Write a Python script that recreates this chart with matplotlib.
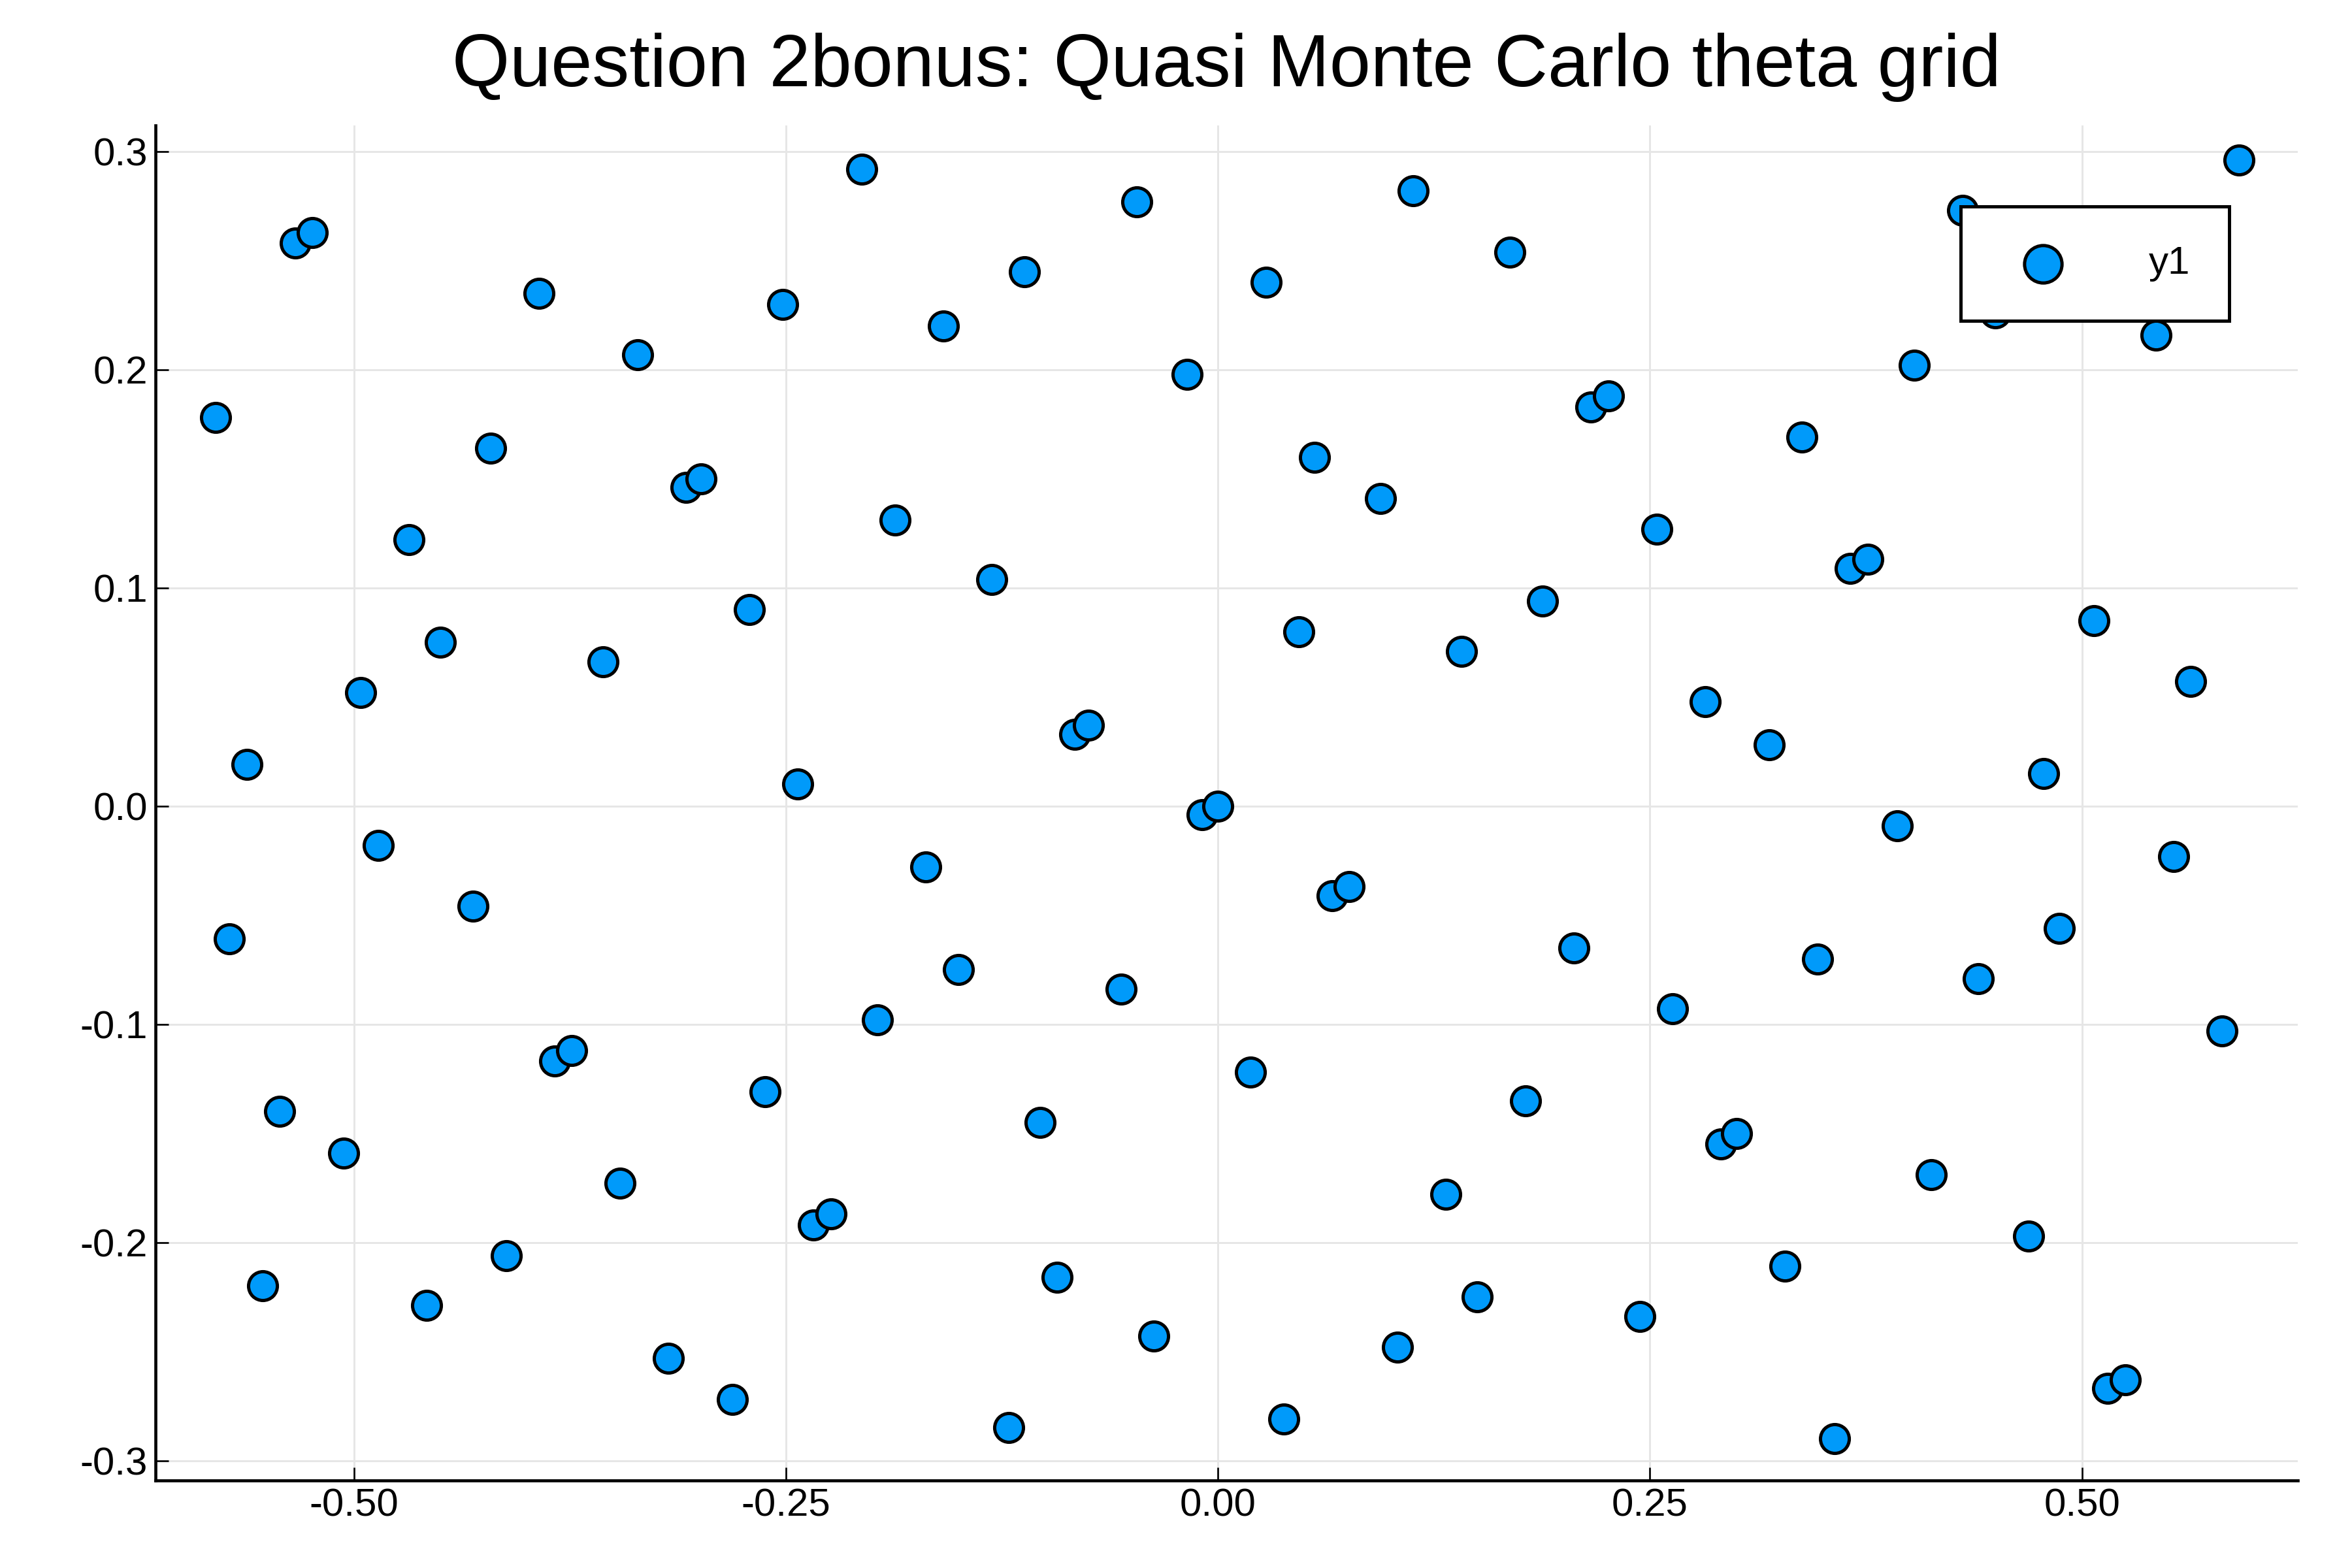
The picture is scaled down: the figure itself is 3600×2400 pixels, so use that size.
import matplotlib.pyplot as plt

theta1 = [-0.580, -0.562, -0.572, -0.543, -0.553, -0.534, -0.524, -0.506, -0.496, -0.486,
          -0.468, -0.458, -0.450, -0.431, -0.421, -0.412, -0.393, -0.384, -0.374, -0.356,
          -0.346, -0.336, -0.318, -0.308, -0.299, -0.281, -0.271, -0.262, -0.252, -0.243,
          -0.234, -0.224, -0.206, -0.197, -0.187, -0.169, -0.159, -0.150, -0.131, -0.121,
          -0.112, -0.103, -0.093, -0.083, -0.075, -0.056, -0.047, -0.037, -0.018, -0.009,
          0.000, 0.019, 0.028, 0.038, 0.047, 0.056, 0.066, 0.076, 0.094, 0.104,
          0.113, 0.132, 0.141, 0.150, 0.169, 0.178, 0.188, 0.206, 0.216, 0.226,
          0.244, 0.254, 0.263, 0.282, 0.291, 0.300, 0.319, 0.328, 0.338, 0.347,
          0.357, 0.366, 0.376, 0.393, 0.403, 0.413, 0.431, 0.440, 0.450, 0.469,
          0.478, 0.487, 0.507, 0.515, 0.525, 0.543, 0.553, 0.563, 0.581, 0.591]
theta2 = [0.178, 0.019, -0.061, -0.140, -0.220, 0.258, 0.263, -0.159, 0.052, -0.018,
          0.122, -0.229, 0.075, -0.046, 0.164, -0.206, 0.235, -0.117, -0.112, 0.066,
          -0.173, 0.207, -0.253, 0.146, 0.150, -0.272, 0.090, -0.131, 0.230, 0.010,
          -0.192, -0.187, 0.292, -0.098, 0.131, -0.028, 0.220, -0.075, 0.104, -0.285,
          0.245, -0.145, -0.216, 0.033, 0.037, -0.084, 0.277, -0.243, 0.198, -0.004,
          0.000, -0.122, 0.240, -0.281, 0.080, 0.160, -0.041, -0.037, 0.141, -0.248,
          0.282, -0.178, 0.071, -0.225, 0.254, -0.135, 0.094, -0.065, 0.183, 0.188,
          -0.234, 0.127, -0.093, 0.048, -0.155, -0.150, 0.028, -0.211, 0.169, -0.070,
          -0.290, 0.109, 0.113, -0.009, 0.202, -0.169, 0.273, -0.079, 0.226, -0.197,
          0.015, -0.056, 0.085, -0.267, -0.263, 0.216, -0.023, 0.057, -0.103, 0.296]

xticks = [-0.50, -0.25, 0.00, 0.25, 0.50]
yticks = [-0.3, -0.2, -0.1, 0.0, 0.1, 0.2, 0.3]

plt.rcParams['font.family'] = ['Liberation Sans', 'DejaVu Sans']
fig = plt.figure(figsize=(15, 10), dpi=240)
ax = fig.add_axes([0.066, 0.056, 0.911, 0.864])

ax.scatter(theta1, theta2, s=175, color='#009AFA', edgecolors='black', linewidths=1.5,
           label='y1', zorder=3)

ax.set_xlim(-0.615, 0.625)
ax.set_ylim(-0.309, 0.312)
ax.set_xticks(xticks)
ax.set_xticklabels(['%.2f' % v for v in xticks])
ax.set_yticks(yticks)
ax.set_yticklabels(['%.1f' % v for v in yticks])
ax.tick_params(labelsize=18, direction='in', length=6)
ax.grid(True, color='#e6e6e6', linewidth=0.9)
for s in ['top', 'right']:
    ax.spines[s].set_visible(False)
for s in ['left', 'bottom']:
    ax.spines[s].set_linewidth(1.4)

ax.set_title('Question 2bonus: Quasi Monte Carlo theta grid', fontsize=34, pad=18)

leg = ax.legend(loc='upper right', bbox_to_anchor=(0.968, 0.94), fontsize=18,
                markerscale=1.3, fancybox=False, framealpha=1, edgecolor='black',
                borderpad=1.0, handletextpad=1.6, handlelength=2.2, borderaxespad=0)
leg.get_frame().set_linewidth(1.5)
leg.set_zorder(5)

fig.savefig('out.png')
